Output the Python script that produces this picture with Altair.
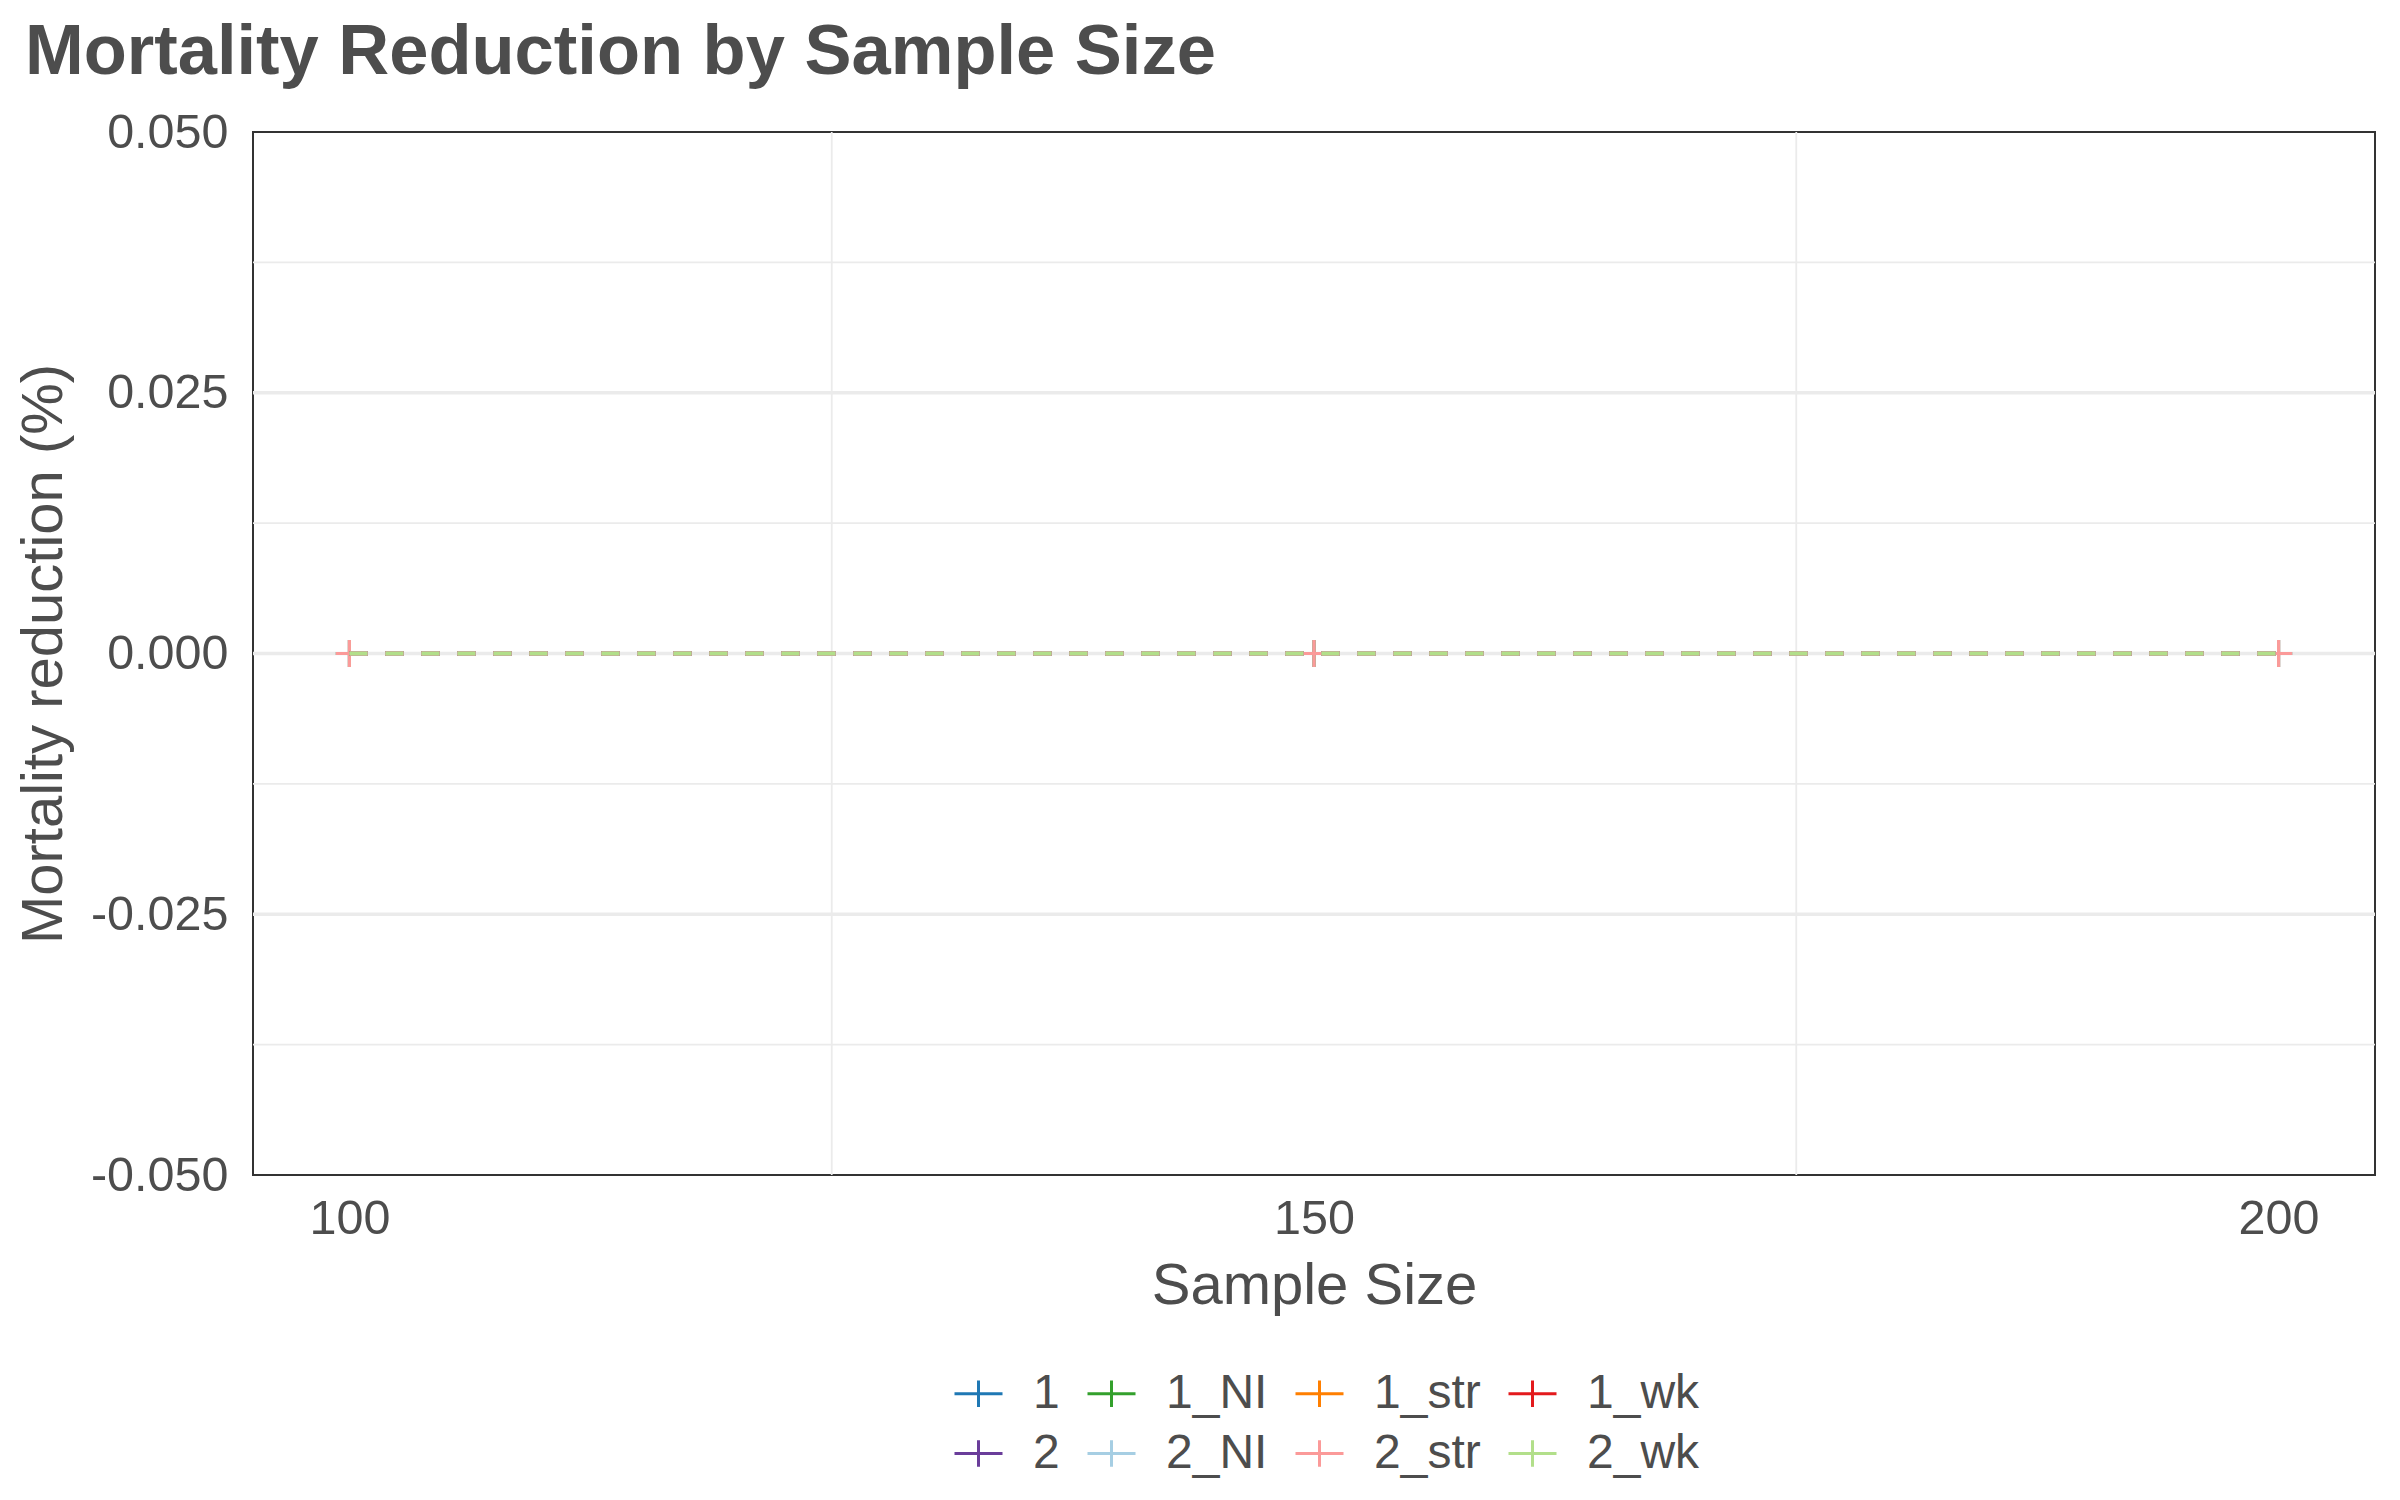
import altair as alt
import pandas as pd

# ---- data ----
sample_sizes = [100, 150, 200]
groups = ["1", "1_NI", "1_str", "1_wk", "2", "2_NI", "2_str", "2_wk"]
colors = ["#1f78b4", "#33a02c", "#ff7f00", "#e31a1c",
          "#6a3d9a", "#a6cee3", "#fb9a99", "#b2df8a"]
mort_1 = [0.0, 0.0, 0.0]
mort_1_NI = [0.0, 0.0, 0.0]
mort_1_str = [0.0, 0.0, 0.0]
mort_1_wk = [0.0, 0.0, 0.0]
mort_2 = [0.0, 0.0, 0.0]
mort_2_NI = [0.0, 0.0, 0.0]
mort_2_str = [0.0, 0.0, 0.0]
mort_2_wk = [0.0, 0.0, 0.0]
series = {
    "1": mort_1, "1_NI": mort_1_NI, "1_str": mort_1_str, "1_wk": mort_1_wk,
    "2": mort_2, "2_NI": mort_2_NI, "2_str": mort_2_str, "2_wk": mort_2_wk,
}
x_ticks = [100, 150, 200]
y_ticks = [-0.05, -0.025, 0.0, 0.025, 0.05]
x_minor = [125, 175]
y_major = [-0.025, 0.0, 0.025]
y_minor = [-0.0375, -0.0125, 0.0125, 0.0375]

# legend is filled column by column (2 rows x 4 columns)
legend_order = ["1", "2", "1_NI", "2_NI", "1_str", "2_str", "1_wk", "2_wk"]
color_of = dict(zip(groups, colors))
legend_colors = [color_of[g] for g in legend_order]

# line table in group order (2_wk drawn last), point table with 2_str last
line_rows = []
for g in groups:
    for s, v in zip(sample_sizes, series[g]):
        line_rows.append({"size": s, "mort": v, "group": g})
line_df = pd.DataFrame(line_rows)
point_order = [g for g in groups if g != "2_str"] + ["2_str"]
point_rows = []
for g in point_order:
    for s, v in zip(sample_sizes, series[g]):
        point_rows.append({"size": s, "mort": v, "group": g})
point_df = pd.DataFrame(point_rows)

W, H = 2122, 1043
FONT = "Liberation Sans"
TXT = "#4d4d4d"

x_scale = alt.Scale(domain=[95, 205], nice=False, zero=False)
y_scale = alt.Scale(domain=[-0.05, 0.05], nice=False, zero=False)

x_axis = alt.Axis(values=x_ticks, format="d", title="Sample Size",
                  labelFontSize=48.5, labelPadding=58, labelBaseline="alphabetic",
                  titleFontSize=58, titleX=W / 2, titleY=128,
                  titleBaseline="alphabetic", titleAlign="center")
y_axis = alt.Axis(values=y_ticks, format=".3f", title="Mortality reduction (%)",
                  labelExpr="replace(datum.label, '\u2212', '-')",
                  labelFontSize=48.5, labelPadding=25, labelBaseline="middle",
                  titleFontSize=58, titleX=-192, titleY=H / 2,
                  titleAngle=-90, titleBaseline="alphabetic", titleAlign="center")


def X(field="size"):
    return alt.X(f"{field}:Q", scale=x_scale, axis=x_axis)


def Y(field="mort"):
    return alt.Y(f"{field}:Q", scale=y_scale, axis=y_axis)


grid_major = alt.Chart(pd.DataFrame({"mort": y_major})).mark_rule(
    color="#ebebeb", strokeWidth=3.5).encode(y=Y())
grid_minor_y = alt.Chart(pd.DataFrame({"mort": y_minor})).mark_rule(
    color="#ebebeb", strokeWidth=1.8).encode(y=Y())
grid_minor_x = alt.Chart(pd.DataFrame({"size": x_minor})).mark_rule(
    color="#ebebeb", strokeWidth=1.8).encode(x=X())

color_scale = alt.Scale(domain=legend_order, range=legend_colors)

points = alt.Chart(point_df).mark_point(
    shape="M-1,0H1M0,-1V1", size=729, filled=False, strokeWidth=3, opacity=1
).encode(
    x=X(), y=Y(),
    color=alt.Color("group:N", scale=color_scale, title=None,
                    legend=alt.Legend(
                        orient="none", legendX=700, legendY=1236,
                        columns=4, gridAlign="each",
                        symbolType="M-1,0H1M0,-0.55V0.55", symbolSize=2304,
                        symbolStrokeWidth=3, symbolFillColor="transparent",
                        labelFontSize=48, labelColor=TXT, labelFont=FONT,
                        labelOffset=29, columnPadding=21, rowPadding=10,
                    )),
)

lines = alt.Chart(line_df).mark_line(strokeWidth=4, strokeDash=[18, 18]).encode(
    x=X(), y=Y(),
    color=alt.Color("group:N", scale=color_scale, legend=None),
    detail="group:N",
)

chart = alt.layer(grid_minor_y, grid_major, grid_minor_x, points, lines).properties(
    width=W, height=H,
    title=alt.TitleParams("Mortality Reduction by Sample Size", anchor="start",
                          fontSize=70.5, fontWeight="bold", color=TXT, font=FONT,
                          frame="bounds", offset=20, dx=10),
    autosize=alt.AutoSizeParams(type="none"),
    padding={"left": 253, "top": 132, "right": 25, "bottom": 325},
).configure(
    background="white",
    font=FONT,
).configure_view(
    stroke="#333333", strokeWidth=2,
).configure_axis(
    grid=False, domain=False, ticks=False, tickSize=0,
    labelColor=TXT, titleColor=TXT, labelFont=FONT, titleFont=FONT,
    titleFontWeight="normal",
)

chart.save("out.html", embed_options={"renderer": "svg", "actions": False})
